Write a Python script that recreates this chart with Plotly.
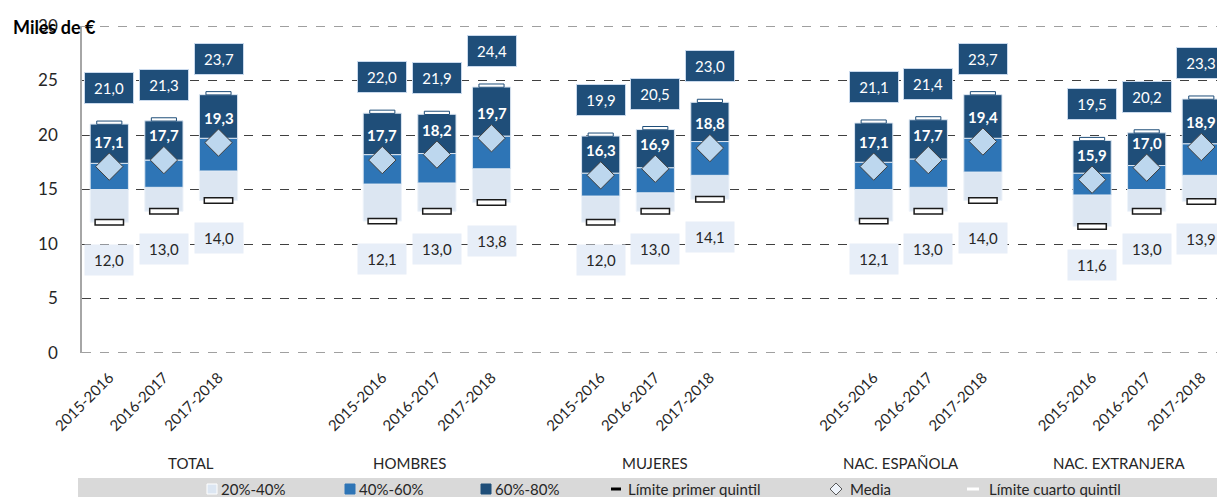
import plotly.graph_objects as go

# ---------------- data ----------------
periods = ["2015-2016", "2016-2017", "2017-2018"]
groups = ["TOTAL", "HOMBRES", "MUJERES", "NAC. ESPAÑOLA", "NAC. EXTRANJERA"]

# limits (miles de €) per group x period
p20 = [12.0, 13.0, 14.0, 12.1, 13.0, 13.8, 12.0, 13.0, 14.1, 12.1, 13.0, 14.0, 11.6, 13.0, 13.9]
p40 = [15.0, 15.2, 16.7, 15.5, 15.6, 16.9, 14.4, 14.7, 16.3, 15.0, 15.2, 16.6, 14.5, 15.0, 16.3]
p60 = [17.4, 17.7, 19.7, 18.2, 18.3, 19.9, 16.5, 17.0, 19.4, 17.5, 17.8, 19.7, 16.5, 17.2, 19.2]
p80 = [21.0, 21.3, 23.7, 22.0, 21.9, 24.4, 19.9, 20.5, 23.0, 21.1, 21.4, 23.7, 19.5, 20.2, 23.3]
media = [17.1, 17.7, 19.3, 17.7, 18.2, 19.7, 16.3, 16.9, 18.8, 17.1, 17.7, 19.4, 15.9, 17.0, 18.9]

legend_labels = ["20%-40%", "40%-60%", "60%-80%", "Límite primer quintil", "Media", "Límite cuarto quintil"]
y_range = [0, 30]

# ---------------- layout helpers ----------------
W, H = 1217, 497
L, R, T, B = 82, 1217, 26, 353
group_start = [0, 5, 9, 14, 18]
group_label_x = [1.5, 5.5, 10.0, 14.5, 18.5]
xs = [g + i for g in group_start for i in range(len(periods))]
xt = [p for _ in groups for p in periods]

def fx(px):
    return (px - L) / (R - L)

def fy(py):
    return (B - py) / (B - T)

def fmt(v):
    return f"{v:.1f}".replace(".", ",")

C_LIGHT = "#dce6f2"
C_MED = "#2e75b6"
C_DARK = "#1f4e79"
FONT = "Lato"
BW = 0.7

fig = go.Figure()
fig.add_trace(go.Bar(x=xs, base=p20, y=[b - a for a, b in zip(p20, p40)], width=BW,
                     marker=dict(color=C_LIGHT, line=dict(color="#eef3fa", width=1)), name=legend_labels[0]))
fig.add_trace(go.Bar(x=xs, base=p40, y=[b - a for a, b in zip(p40, p60)], width=BW,
                     marker=dict(color=C_MED, line=dict(color="#dbe6f2", width=1)), name=legend_labels[1]))
fig.add_trace(go.Bar(x=xs, base=p60, y=[b - a for a, b in zip(p60, p80)], width=BW,
                     marker=dict(color=C_DARK, line=dict(color="#dbe6f2", width=1)), name=legend_labels[2]))
# fourth quintile limit (white dash)
fig.add_trace(go.Bar(x=xs, base=[v - 0.02 for v in p80], y=[0.3] * len(xs), width=0.46,
                     marker=dict(color="white", line=dict(color="#1f4e79", width=1)), name=legend_labels[5]))
# first quintile limit (dash)
fig.add_trace(go.Bar(x=xs, base=[v - 0.25 for v in p20], y=[0.5] * len(xs), width=0.52,
                     marker=dict(color="white", line=dict(color="#1a1a1a", width=1.5)), name=legend_labels[3]))
# mean
fig.add_trace(go.Scatter(x=xs, y=media, mode="markers", name=legend_labels[4],
                         marker=dict(symbol="diamond", size=21, color="#bdd7ee",
                                     line=dict(color="#404040", width=1))))

ann = []
for x, a, d, m in zip(xs, p20, p80, media):
    ann.append(dict(x=x, y=d, xref="x", yref="y", text=fmt(d), showarrow=False, yshift=36,
                    bgcolor=C_DARK, bordercolor="#c9d9ec", borderwidth=1, width=46, height=28,
                    font=dict(family=FONT, size=15, color="white")))
    ann.append(dict(x=x, y=a, xref="x", yref="y", text=fmt(a), showarrow=False, yshift=-38,
                    bgcolor="#e7eef8", width=46, height=28,
                    font=dict(family=FONT, size=15, color="#262626")))
    ann.append(dict(x=x, y=m, xref="x", yref="y", text="<b>" + fmt(m) + "</b>", showarrow=False, yshift=25,
                    font=dict(family=FONT, size=15, color="white")))

for gx, g in zip(group_label_x, groups):
    ann.append(dict(x=gx, y=fy(463), xref="x", yref="paper", text=g, showarrow=False, yanchor="middle",
                    font=dict(family=FONT, size=15, color="#262626")))

ann.append(dict(x=fx(11), y=fy(27), xref="paper", yref="paper", text="<b>Miles de €</b>", showarrow=False,
                xanchor="left", yanchor="middle", font=dict(family=FONT, size=18, color="black")))

shapes = []
# dashed lines at range edges (0 and 30)
for yv in y_range:
    shapes.append(dict(type="line", xref="paper", yref="y", x0=0, x1=1, y0=yv, y1=yv,
                       line=dict(color="#404040", width=1, dash="dash"), layer="below"))
# legend band
shapes.append(dict(type="rect", xref="paper", yref="paper", x0=fx(78), x1=1.0, y0=fy(498), y1=fy(478),
                   fillcolor="#d9d9d9", line=dict(width=0), layer="below"))
ly = 489
# squares
for px0, col in [(207, C_LIGHT), (345, C_MED), (481, C_DARK)]:
    shapes.append(dict(type="rect", xref="paper", yref="paper", x0=fx(px0), x1=fx(px0 + 10),
                       y0=fy(ly + 5), y1=fy(ly - 5), fillcolor=col,
                       line=dict(color="white" if col == C_LIGHT else col, width=1)))
# dashes
shapes.append(dict(type="rect", xref="paper", yref="paper", x0=fx(611), x1=fx(621), y0=fy(ly + 1.5), y1=fy(ly - 1.5),
                   fillcolor="black", line=dict(width=0)))
shapes.append(dict(type="rect", xref="paper", yref="paper", x0=fx(967), x1=fx(979), y0=fy(ly + 1.5), y1=fy(ly - 1.5),
                   fillcolor="white", line=dict(width=0)))
# diamond
shapes.append(dict(type="path", xref="paper", yref="paper",
                   path=f"M {fx(836)} {fy(ly - 6)} L {fx(842)} {fy(ly)} L {fx(836)} {fy(ly + 6)} L {fx(830)} {fy(ly)} Z",
                   fillcolor="#eef3fa", line=dict(color="#595959", width=1)))
for px0, lab in zip([219, 357, 493, 626, 848, 987], legend_labels):
    ann.append(dict(x=fx(px0), y=fy(ly), xref="paper", yref="paper", text=lab, showarrow=False,
                    xanchor="left", yanchor="middle", font=dict(family=FONT, size=15, color="#262626")))

fig.update_layout(
    width=W, height=H, barmode="overlay", showlegend=False,
    margin=dict(l=L, r=W - R, t=T, b=H - B, autoexpand=False),
    paper_bgcolor="white", plot_bgcolor="white",
    annotations=ann, shapes=shapes,
    font=dict(family=FONT, color="#404040"),
    xaxis=dict(range=[-0.5, (R - L) / 54.6 - 0.5], tickmode="array", tickvals=xs, ticktext=xt,
               tickangle=-45, tickfont=dict(family=FONT, size=15, color="#262626"), automargin=False,
               showgrid=False, zeroline=False, showline=False, ticks="", ticklabelstandoff=12),
    yaxis=dict(range=y_range, dtick=5, showgrid=True, griddash="dash", gridcolor="#404040", gridwidth=1,
               zeroline=False, showline=True, linecolor="#a6a6a6", linewidth=1.5, ticks="", automargin=False,
               tickfont=dict(family=FONT, size=17, color="#262626"), ticklabelstandoff=19),
)

fig.write_html("out.html", config={"displayModeBar": False},
               post_script="document.body.style.margin='0';document.body.style.overflow='hidden';")
